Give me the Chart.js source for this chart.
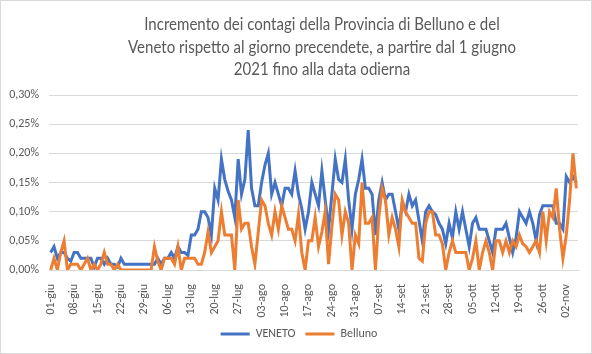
<!DOCTYPE html>
<html>
<head>
<meta charset="utf-8">
<script src="https://cdn.jsdelivr.net/npm/chart.js@4.4.1/dist/chart.umd.min.js"></script>
<style>
  html, body { margin: 0; padding: 0; background: #fff; }
  #box { position: relative; width: 592px; height: 354px; box-sizing: border-box; border: 1px solid #d9d9d9; background: #fff; }
  #titolo { position: absolute; left: 52px; right: 0; top: 12px; text-align: center; font-family: Lato, sans-serif; font-size: 17px; line-height: 22.5px; color: #595959; transform: scaleX(0.885); transform-origin: 50% 0; }
  canvas { position: absolute; left: 0; top: 0; }
</style>
</head>
<body>
<div id="box">
  <canvas id="chart" width="590" height="352"></canvas>
  <div id="titolo">Incremento dei contagi della Provincia di Belluno e del<br>Veneto rispetto al giorno precendete, a partire dal 1 giugno<br>2021 fino alla data odierna</div>
</div>
<script>
// mesi e giorni (1 giugno - 5 novembre 2021)
const mesi = ["giu", "lug", "ago", "set", "ott", "nov"];
const giorniPerMese = [30, 31, 31, 30, 31, 5];

const tickLabels = ["01-giu", "08-giu", "15-giu", "22-giu", "29-giu", "06-lug", "13-lug", "20-lug",
  "27-lug", "03-ago", "10-ago", "17-ago", "24-ago", "31-ago", "07-set", "14-set", "21-set",
  "28-set", "05-ott", "12-ott", "19-ott", "26-ott", "02-nov"];

// incremento giornaliero in %
const veneto = [
  0.03, 0.04, 0.02, 0.03, 0.03, 0.02, 0.015, 0.03, 0.03, 0.02,
  0.02, 0.02, 0.02, 0.005, 0.02, 0.02, 0.01, 0.02, 0.01, 0.01,
  0.005, 0.02, 0.01, 0.01, 0.01, 0.01, 0.01, 0.01, 0.01, 0.01,
  0.01, 0.01, 0.02, 0.01, 0.02, 0.02, 0.03, 0.02, 0.04, 0.03,
  0.03, 0.025, 0.06, 0.06, 0.07, 0.10, 0.10, 0.09, 0.06, 0.14,
  0.12, 0.19, 0.155, 0.135, 0.12, 0.09, 0.19, 0.13, 0.155, 0.24,
  0.14, 0.11, 0.11, 0.15, 0.18, 0.20, 0.13, 0.15, 0.13, 0.11,
  0.14, 0.14, 0.13, 0.17, 0.13, 0.105, 0.07, 0.10, 0.15, 0.13,
  0.11, 0.17, 0.12, 0.07, 0.13, 0.19, 0.155, 0.15, 0.19, 0.12,
  0.07, 0.13, 0.155, 0.19, 0.14, 0.14, 0.13, 0.06, 0.12, 0.15,
  0.12, 0.13, 0.13, 0.10, 0.07, 0.115, 0.10, 0.13, 0.11, 0.12,
  0.085, 0.05, 0.10, 0.11, 0.10, 0.095, 0.08, 0.07, 0.045, 0.08,
  0.055, 0.10, 0.07, 0.10, 0.07, 0.04, 0.08, 0.09, 0.07, 0.07,
  0.07, 0.05, 0.03, 0.07, 0.07, 0.07, 0.08, 0.055, 0.03, 0.055,
  0.10, 0.09, 0.08, 0.10, 0.08, 0.05, 0.095, 0.11, 0.11, 0.11,
  0.11, 0.08, 0.08, 0.07, 0.16, 0.15, 0.16, 0.15
];

const belluno = [
  0, 0.02, 0, 0.03, 0.05, 0, 0.01, 0.01, 0.01, 0,
  0.01, 0.02, 0, 0.01, 0, 0.01, 0.03, 0.01, 0.01, 0,
  0.01, 0, 0, 0, 0, 0, 0, 0, 0, 0,
  0, 0.04, 0.015, 0, 0.02, 0.02, 0.02, 0.01, 0.04, 0,
  0.02, 0.02, 0.02, 0.02, 0.01, 0.01, 0.03, 0.065, 0.03, 0.04,
  0.05, 0.10, 0.06, 0.06, 0.06, 0, 0.12, 0.07, 0.08, 0.08,
  0.04, 0.01, 0.065, 0.12, 0.11, 0.08, 0.06, 0.10, 0.07, 0.11,
  0.09, 0.07, 0.07, 0.05, 0.095, 0.03, 0, 0.05, 0.05, 0.09,
  0.04, 0.065, 0.10, 0.01, 0.075, 0.13, 0.12, 0.06, 0.10, 0.08,
  0, 0.06, 0.045, 0.15, 0.08, 0.08, 0.09, 0, 0.09, 0.14,
  0.12, 0.06, 0.09, 0.07, 0.04, 0.12, 0.10, 0.09, 0.08, 0.08,
  0.02, 0.015, 0.08, 0.10, 0.10, 0.06, 0.06, 0.045, 0, 0.03,
  0.05, 0.03, 0.03, 0.03, 0.03, 0, 0.02, 0.05, 0, 0.03,
  0.05, 0.03, 0, 0.05, 0.05, 0.03, 0.05, 0.03, 0.05, 0.04,
  0.06, 0.045, 0.04, 0.03, 0.04, 0.05, 0.03, 0.10, 0.05, 0.10,
  0.09, 0.14, 0.07, 0.02, 0.06, 0.12, 0.20, 0.14
];

const giorni = [];
mesi.forEach((m, k) => {
  for (let d = 1; d <= giorniPerMese[k]; d++) {
    giorni.push(String(d).padStart(2, "0") + "-" + m);
  }
});

const grigio = "#595959";
const font = { family: "Carlito, Lato, sans-serif", size: 12 };

const ctx = document.getElementById("chart").getContext("2d");
const myChart = new Chart(ctx, {
  type: "line",
  data: {
    labels: giorni,
    datasets: [
      {
        label: "VENETO",
        data: veneto,
        borderColor: "#4472C4",
        backgroundColor: "#4472C4",
        borderWidth: 3,
        pointRadius: 0,
        tension: 0,
        order: 1,
      },
      {
        label: "Belluno",
        data: belluno,
        borderColor: "#ED7D31",
        backgroundColor: "#ED7D31",
        borderWidth: 3,
        pointRadius: 0,
        tension: 0,
        order: 0,
      },
    ],
  },
  options: {
    responsive: false,
    animation: false,
    layout: { padding: { top: 94, left: 6, right: 0, bottom: 3 } },
    plugins: {
      tooltip: { enabled: false },
      legend: {
        position: "bottom",
        labels: {
          boxWidth: 29,
          boxHeight: 3,
          padding: 10,
          color: grigio,
          font: font,
          sort: (a, b) => a.datasetIndex - b.datasetIndex,
          generateLabels(chart) {
            const items = Chart.defaults.plugins.legend.labels.generateLabels(chart);
            items.forEach((it) => { it.lineWidth = 0; });
            return items;
          },
        },
      },
    },
    scales: {
      x: {
        offset: true,
        grid: { display: false },
        border: { color: "#d9d9d9" },
        ticks: {
          autoSkip: false,
          minRotation: 90,
          maxRotation: 90,
          padding: 6,
          color: grigio,
          font: font,
          callback(value) {
            const l = this.getLabelForValue(value);
            return tickLabels.includes(l) ? l : null;
          },
        },
        afterFit(scale) { scale.height = 48; },
      },
      y: {
        min: 0,
        max: 0.30,
        grid: { color: "#d9d9d9", drawTicks: false },
        border: { display: false },
        ticks: {
          stepSize: 0.05,
          padding: 10,
          color: grigio,
          font: font,
          callback: (v) => v.toFixed(2).replace(".", ",") + "%",
        },
        afterFit(scale) { scale.width = 42; },
      },
      // spazio vuoto a destra del grafico
      destra: {
        position: "right",
        grid: { display: false },
        border: { display: false },
        ticks: { display: false },
        afterFit(scale) { scale.width = 13; },
      },
    },
  },
});
</script>
</body>
</html>
